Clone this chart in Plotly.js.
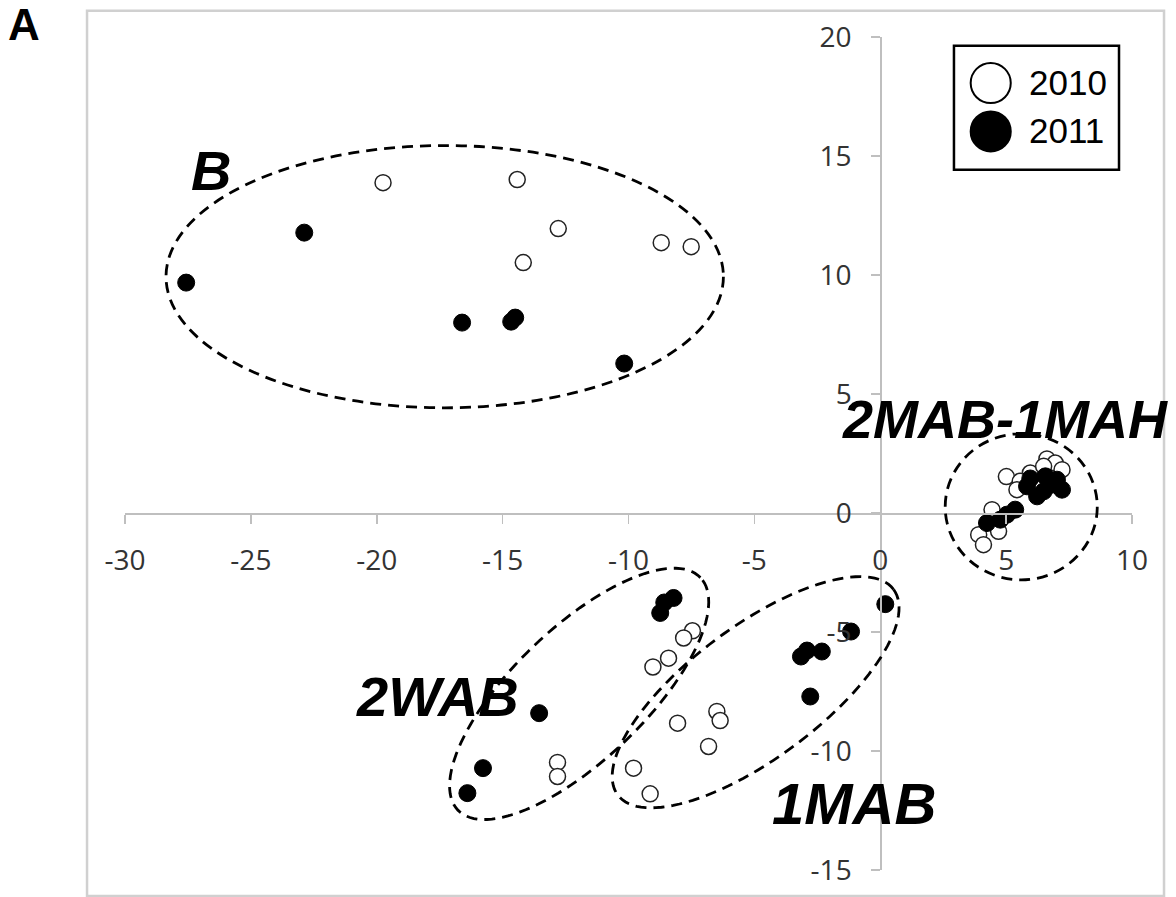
<!DOCTYPE html>
<html>
<head>
<meta charset="utf-8">
<script src="https://cdn.plot.ly/plotly-3.0.1.min.js"></script>
<style>html,body{margin:0;padding:0;background:#fff;}#chart{width:1176px;height:897px;}</style>
</head>
<body>
<div id="chart"></div>
<script>
// ---- data ----
var seriesNames = ["2010", "2011"];

var x2010 = [-19.75, -14.42, -12.79, -14.18, -8.70, -7.51,
             -7.46, -7.81, -8.41, -9.03, -8.05, -6.49, -6.36, -6.82, -12.82, -12.82, -9.80, -9.14,
             5.01, 6.62, 6.95, 7.22, 5.96, 5.56, 5.43, 4.44, 3.91, 4.10, 4.70, 6.49];
var y2010 = [13.88, 14.01, 11.95, 10.52, 11.36, 11.19,
             -4.95, -5.25, -6.10, -6.47, -8.83, -8.34, -8.72, -9.81, -10.48, -11.07, -10.72, -11.80,
             1.53, 2.27, 2.10, 1.82, 1.68, 1.33, 0.98, 0.14, -0.91, -1.33, -0.77, 1.96];

var x2011 = [-22.88, -27.57, -16.61, -14.66, -14.50, -10.17,
             -8.21, -8.58, -8.74, -13.55, -15.78, -16.40,
             0.20, -1.16, -2.32, -2.91, -3.15, -2.78,
             4.24, 4.77, 5.03, 5.36, 5.83, 6.23, 6.56, 6.82, 7.22, 6.49, 7.02, 5.96];
var y2011 = [11.78, 9.68, 8.00, 8.04, 8.21, 6.28,
             -3.57, -3.76, -4.20, -8.41, -10.72, -11.77,
             -3.83, -4.98, -5.82, -5.78, -6.03, -7.71,
             -0.42, -0.28, -0.07, 0.14, 1.12, 0.70, 1.54, 1.19, 0.98, 0.91, 1.40, 1.45];

var xTickVals = [-30, -25, -20, -15, -10, -5, 0, 5, 10];
var xTickText = ["-30", "-25", "-20", "-15", "-10", "-5", "0", "5", "10"];
var yTickVals = [-15, -10, -5, 0, 5, 10, 15, 20];
var yTickText = ["-15", "-10", "-5", "0", "5", "10", "15", "20"];

var groupLabels = ["B", "2WAB", "1MAB", "2MAB-1MAH"];
var groupLabelX = [-26.58, -17.60, -1.03, 4.97];
var groupLabelY = [14.39, -7.72, -12.21, 3.97];

// ---- geometry helpers for group ellipses ----
var X_RANGE = [-30, 10], Y_RANGE = [-15, 20];
var PLOT_W = 1007, PLOT_H = 833;
var pxX = PLOT_W / (X_RANGE[1] - X_RANGE[0]);
var pxY = PLOT_H / (Y_RANGE[1] - Y_RANGE[0]);

function rotEllipse(cx, cy, aPx, bPx, angDeg) {
  var phi = angDeg * Math.PI / 180, n = 120, d = "";
  for (var i = 0; i <= n; i++) {
    var t = 2 * Math.PI * i / n;
    var u = aPx * Math.cos(t), v = bPx * Math.sin(t);
    var X = u * Math.cos(phi) - v * Math.sin(phi);
    var Y = u * Math.sin(phi) + v * Math.cos(phi);
    d += (i === 0 ? "M" : "L") + (cx + X / pxX).toFixed(4) + "," + (cy + Y / pxY).toFixed(4);
  }
  return d + "Z";
}

var dashLine = {color: "#000", width: 2.8, dash: "11px,7px"};

var shapes = [
  // B group
  {type: "circle", xref: "x", yref: "y", x0: -28.37, x1: -6.23, y0: 4.42, y1: 15.44, line: dashLine},
  // 2MAB-1MAH group
  {type: "circle", xref: "x", yref: "y", x0: 2.58, x1: 8.62, y0: -2.81, y1: 3.33, line: dashLine},
  // 2WAB group
  {type: "path", xref: "x", yref: "y", path: rotEllipse(-11.96, -7.60, 168, 66, 43.8), line: dashLine},
  // 1MAB group
  {type: "path", xref: "x", yref: "y", path: rotEllipse(-4.95, -7.53, 172, 66, 36.7), line: dashLine},
  // outer frame
  {type: "rect", xref: "paper", yref: "paper", x0: -0.0377, x1: 1.0318, y0: -0.0312, y1: 1.0316,
   line: {color: "#d0d0d0", width: 2.5}, layer: "below"},
  // legend box
  {type: "rect", xref: "paper", yref: "paper", x0: 0.8232, x1: 0.9871, y0: 0.8406, y1: 0.9895,
   line: {color: "#000", width: 2.5}, fillcolor: "#fff"},
  {type: "circle", xref: "paper", yref: "paper", x0: 0.8398, x1: 0.8796, y0: 0.9207, y1: 0.9688,
   line: {color: "#000", width: 2}, fillcolor: "#fff"},
  {type: "circle", xref: "paper", yref: "paper", x0: 0.8398, x1: 0.8796, y0: 0.8626, y1: 0.9106,
   line: {color: "#000", width: 2}, fillcolor: "#000"}
];

var labelFamily = "Liberation Sans, Arial, sans-serif";
var labelSizes = [56, 56, 58, 54];
var annotations = [];
for (var i = 0; i < groupLabels.length; i++) {
  annotations.push({x: groupLabelX[i], y: groupLabelY[i], xref: "x", yref: "y", text: groupLabels[i],
    showarrow: false, xanchor: "center", yanchor: "middle",
    font: {family: labelFamily, size: labelSizes[i], color: "#000", weight: "bold", style: "italic"}});
}
annotations.push({x: 0.8954, y: 0.9455, xref: "paper", yref: "paper", text: seriesNames[0], showarrow: false,
  xanchor: "left", yanchor: "middle", font: {family: labelFamily, size: 35, color: "#000"}});
annotations.push({x: 0.8954, y: 0.8875, xref: "paper", yref: "paper", text: seriesNames[1], showarrow: false,
  xanchor: "left", yanchor: "middle", font: {family: labelFamily, size: 35, color: "#000"}});
annotations.push({x: -0.1003, y: 1.0145, xref: "paper", yref: "paper", text: "A", showarrow: false,
  xanchor: "center", yanchor: "middle", font: {family: labelFamily, size: 44, color: "#000", weight: "bold"}});

var traces = [
  {x: x2010, y: y2010, name: seriesNames[0], type: "scatter", mode: "markers", cliponaxis: false,
   marker: {size: 16, color: "#fff", line: {color: "#222", width: 1.5}}},
  {x: x2011, y: y2011, name: seriesNames[1], type: "scatter", mode: "markers", cliponaxis: false,
   marker: {size: 17, color: "#000", line: {color: "#000", width: 1}}}
];

var axisCommon = {
  showgrid: false, zeroline: false, showline: true, linecolor: "#bfbfbf", linewidth: 1.5,
  ticks: "outside", ticklen: 9, tickwidth: 1.5, tickcolor: "#bfbfbf",
  tickfont: {family: "Open Sans, sans-serif", size: 28, color: "#333"},
  anchor: "free", fixedrange: true, tickmode: "array"
};

var layout = {
  width: 1176, height: 897,
  margin: {l: 125, r: 44, t: 37, b: 27},
  paper_bgcolor: "#fff", plot_bgcolor: "#fff",
  showlegend: false,
  xaxis: Object.assign({}, axisCommon, {range: X_RANGE, tickvals: xTickVals, ticktext: xTickText,
    position: 15 / 35, ticklabelstandoff: 13}),
  yaxis: Object.assign({}, axisCommon, {range: Y_RANGE, tickvals: yTickVals, ticktext: yTickText,
    position: 0.75, ticklabelstandoff: 14}),
  shapes: shapes,
  annotations: annotations
};

Plotly.newPlot("chart", traces, layout, {displayModeBar: false, staticPlot: true});
</script>
</body>
</html>
